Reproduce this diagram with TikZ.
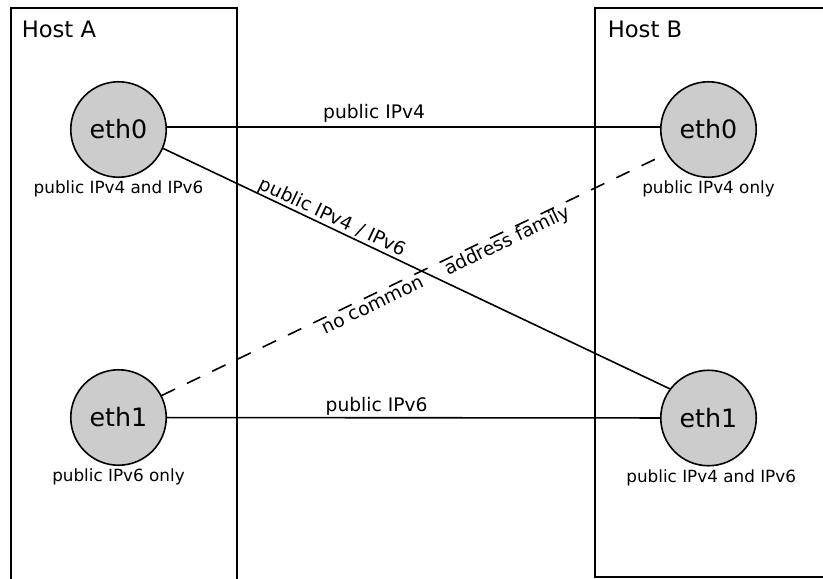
\documentclass[tikz,border=0pt]{standalone}
\usepackage{fontspec}
\setmainfont{DejaVu Sans}
\usetikzlibrary{positioning}
\definecolor{IfaceGray}{RGB}{204, 204, 204}

\begin{document}
\begin{tikzpicture}[
    x=0.75pt, y=-0.75pt,
    hostbox/.style={draw=black, line width=1.2pt},
    hostlabel/.style={anchor=base west, inner sep=0pt, font=\fontsize{17}{20}\selectfont},
    iface/.style={circle, draw=black, fill=IfaceGray, line width=1.2pt, minimum size=71.6pt, inner sep=0pt, font=\fontsize{19}{23}\selectfont},
    addrlabel/.style={inner sep=0pt, font=\fontsize{12.6}{15}\selectfont},
    linkstyle/.style={draw=black, line width=1.2pt},
    nolink/.style={draw=black, line width=1.2pt, dash pattern=on 11pt off 10pt},
    linklabel/.style={inner sep=0pt, font=\fontsize{14}{17}\selectfont}
]

    \useasboundingbox (0,0) rectangle (823,578);
    \clip (0,0) rectangle (823,578);

    % Hosts
    \draw [hostbox] (11,8) rectangle (237,600);
    \draw [hostbox] (595,8) rectangle (850,577);
    \node (hosta) [hostlabel] at (21.5,37) {Host A};
    \node (hostb) [hostlabel] at (607.5,37) {Host B};

    % Interfaces
    \node (eth0a) [iface] at (118.5,129.5) {eth0};
    \node (eth1a) [iface] at (118.5,417.5) {eth1};
    \node (eth0b) [iface] at (708.5,129.5) {eth0};
    \node (eth1b) [iface] at (708.5,418) {eth1};

    \node (eth0a_addr) [addrlabel, below=2pt of eth0a] {public IPv4 and IPv6};
    \node (eth1a_addr) [addrlabel, below=2pt of eth1a] {public IPv6 only};
    \node (eth0b_addr) [addrlabel, below=2pt of eth0b] {public IPv4 only};
    \node (eth1b_addr) [addrlabel, below=2pt of eth1b, xshift=2pt] {public IPv4 and IPv6};

    % Links
    \draw [linkstyle] (eth0a.3) -- node [linklabel, above=2.5pt, pos=0.42] {public IPv4} (eth0b.177);
    \draw [linkstyle] (eth1a) -- node [linklabel, above=1pt, pos=0.425] {public IPv6} (eth1b);
    \draw [linkstyle] (eth0a.337) -- node [linklabel, sloped, anchor=south, pos=0.325] {public IPv4 / IPv6} (eth1b.143);
    \draw [nolink] (eth1a.27) -- node [linklabel, sloped, anchor=north, text height=11pt, pos=0.555] {no common\hspace{1.35em}address family} (eth0b.210);

\end{tikzpicture}
\end{document}
